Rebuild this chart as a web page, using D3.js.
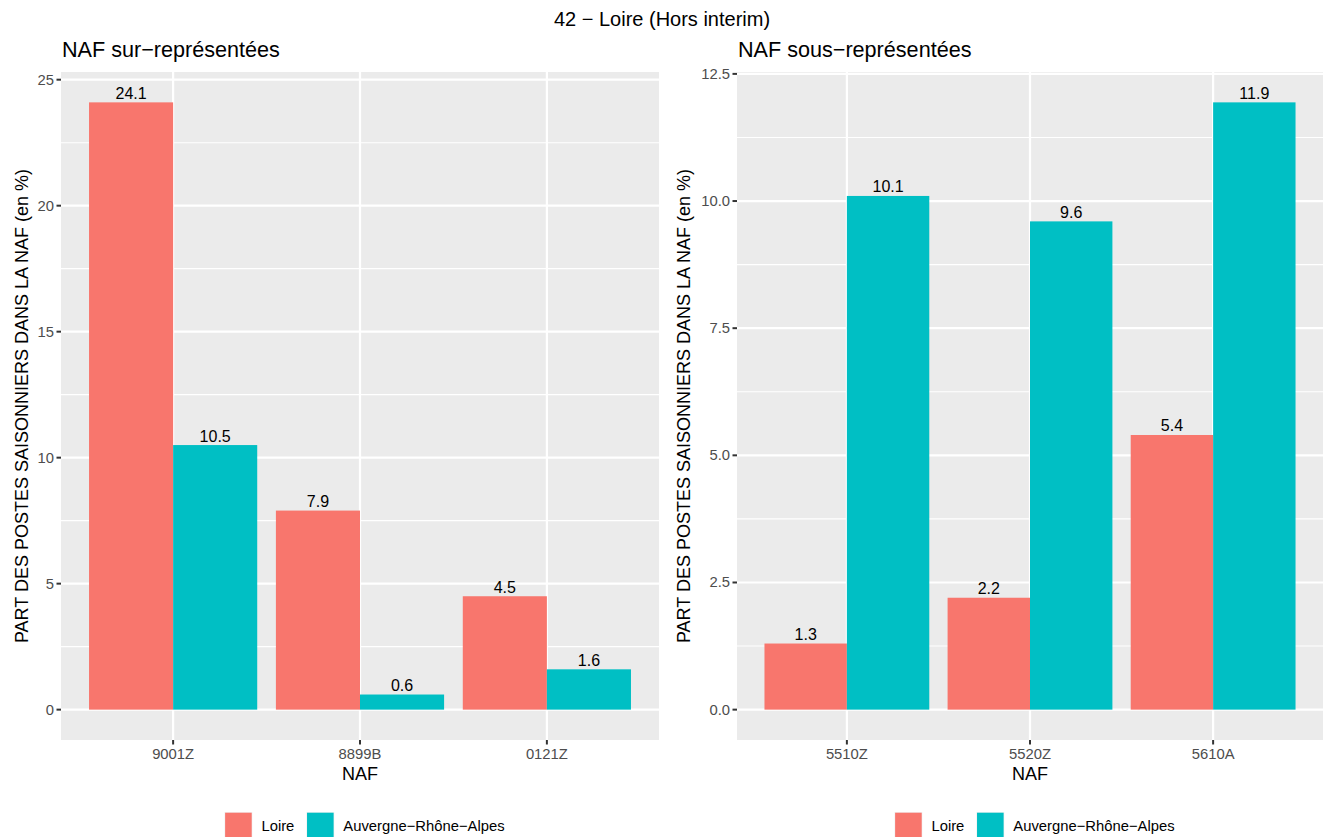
<!DOCTYPE html>
<html>
<head>
<meta charset="utf-8">
<script src="https://cdn.jsdelivr.net/npm/d3@7"></script>
<style>
  html, body { margin: 0; padding: 0; background: #ffffff; }
  svg { display: block; font-family: "Liberation Sans", Arial, Helvetica, sans-serif; }
</style>
</head>
<body>
<svg id="chart" width="1324" height="837"></svg>
<script>
// ---- data ----
const mainTitle = "42 \u2212 Loire (Hors interim)";
const seriesNames = ["Loire", "Auvergne\u2212Rh\u00f4ne\u2212Alpes"];
const seriesColors = ["#F8766D", "#00BFC4"];

const titleSur = "NAF sur\u2212repr\u00e9sent\u00e9es";
const categoriesSur = ["9001Z", "8899B", "0121Z"];
const loireSur = [24.1, 7.9, 4.5];
const araSur = [10.5, 0.6, 1.6];
const ticksSur = [0, 5, 10, 15, 20, 25];
const tickLabelsSur = ["0", "5", "10", "15", "20", "25"];

const titleSous = "NAF sous\u2212repr\u00e9sent\u00e9es";
const categoriesSous = ["5510Z", "5520Z", "5610A"];
const loireSous = [1.3, 2.2, 5.4];
const araSous = [10.1, 9.6, 11.94];
const ticksSous = [0, 2.5, 5, 7.5, 10, 12.5];
const tickLabelsSous = ["0.0", "2.5", "5.0", "7.5", "10.0", "12.5"];

const yTitle = "PART DES POSTES SAISONNIERS DANS LA NAF (en %)";
const xTitle = "NAF";

// ---- drawing ----
const svg = d3.select("#chart");

svg.append("text")
  .attr("x", 662).attr("y", 26)
  .attr("text-anchor", "middle")
  .attr("font-size", 20)
  .attr("fill", "#000")
  .text(mainTitle);

function drawPanel(cfg) {
  const g = svg.append("g");
  const x = d3.scalePoint().domain(cfg.categories).range([cfg.left, cfg.right]).padding(0.6);
  const maxV = d3.max(cfg.loire.concat(cfg.ara));
  const y = d3.scaleLinear().domain([-0.05 * maxV, 1.05 * maxV]).range([cfg.bottom, cfg.top]);
  const step = x.step();
  const bw = 0.45 * step;

  // panel background
  g.append("rect")
    .attr("x", cfg.left).attr("y", cfg.top)
    .attr("width", cfg.right - cfg.left).attr("height", cfg.bottom - cfg.top)
    .attr("fill", "#EBEBEB");

  // minor grid
  const minors = [];
  for (let i = 0; i < cfg.ticks.length - 1; i++) minors.push((cfg.ticks[i] + cfg.ticks[i + 1]) / 2);
  g.selectAll(".minor").data(minors).enter().append("line")
    .attr("x1", cfg.left).attr("x2", cfg.right)
    .attr("y1", d => y(d)).attr("y2", d => y(d))
    .attr("stroke", "#ffffff").attr("stroke-width", 1.1);

  // major grid
  g.selectAll(".majorY").data(cfg.ticks).enter().append("line")
    .attr("x1", cfg.left).attr("x2", cfg.right)
    .attr("y1", d => y(d)).attr("y2", d => y(d))
    .attr("stroke", "#ffffff").attr("stroke-width", 2.2);
  g.selectAll(".majorX").data(cfg.categories).enter().append("line")
    .attr("x1", d => x(d)).attr("x2", d => x(d))
    .attr("y1", cfg.top).attr("y2", cfg.bottom)
    .attr("stroke", "#ffffff").attr("stroke-width", 2.2);

  // bars
  const series = [cfg.loire, cfg.ara];
  series.forEach((vals, si) => {
    g.selectAll(".bar" + si).data(cfg.categories).enter().append("rect")
      .attr("x", d => x(d) - bw + si * bw)
      .attr("width", bw)
      .attr("y", (d, i) => y(vals[i]))
      .attr("height", (d, i) => y(0) - y(vals[i]))
      .attr("fill", seriesColors[si]);
    g.selectAll(".lab" + si).data(cfg.categories).enter().append("text")
      .attr("x", d => x(d) - bw / 2 + si * bw)
      .attr("y", (d, i) => y(vals[i]) - 3.5)
      .attr("text-anchor", "middle")
      .attr("font-size", 16)
      .attr("fill", "#000")
      .text((d, i) => vals[i].toFixed(1));
  });

  // y axis ticks
  g.selectAll(".yt").data(cfg.ticks).enter().append("line")
    .attr("x1", cfg.left - 4.5).attr("x2", cfg.left)
    .attr("y1", d => y(d)).attr("y2", d => y(d))
    .attr("stroke", "#333333").attr("stroke-width", 2);
  g.selectAll(".ytl").data(cfg.ticks).enter().append("text")
    .attr("x", cfg.left - 7)
    .attr("y", d => y(d) + 5)
    .attr("text-anchor", "end")
    .attr("font-size", 14.8)
    .attr("fill", "#4D4D4D")
    .text((d, i) => cfg.tickLabels[i]);

  // x axis ticks
  g.selectAll(".xt").data(cfg.categories).enter().append("line")
    .attr("x1", d => x(d)).attr("x2", d => x(d))
    .attr("y1", cfg.bottom).attr("y2", cfg.bottom + 4.5)
    .attr("stroke", "#333333").attr("stroke-width", 2);
  g.selectAll(".xtl").data(cfg.categories).enter().append("text")
    .attr("x", d => x(d))
    .attr("y", cfg.bottom + 19)
    .attr("text-anchor", "middle")
    .attr("font-size", 14.8)
    .attr("fill", "#4D4D4D")
    .text(d => d);

  const cx = (cfg.left + cfg.right) / 2;
  const cy = (cfg.top + cfg.bottom) / 2;

  // axis titles
  g.append("text")
    .attr("x", cx).attr("y", cfg.bottom + 40)
    .attr("text-anchor", "middle")
    .attr("font-size", 18)
    .attr("fill", "#000")
    .text(xTitle);
  g.append("text")
    .attr("transform", `translate(${cfg.yTitleX},${cy}) rotate(-90)`)
    .attr("text-anchor", "middle")
    .attr("font-size", 18)
    .attr("fill", "#000")
    .text(yTitle);

  // panel title
  g.append("text")
    .attr("x", cfg.left + 1).attr("y", 57)
    .attr("font-size", 21.6)
    .attr("fill", "#000")
    .text(cfg.title);

  // legend
  const lg = g.append("g");
  const keySize = 28;
  let pos = 0;
  seriesNames.forEach((name, i) => {
    const item = lg.append("g").attr("transform", `translate(${pos},0)`);
    item.append("rect").attr("x", 0).attr("y", 0).attr("width", keySize).attr("height", keySize).attr("fill", "#F2F2F2");
    item.append("rect").attr("x", 0.7).attr("y", 0.7).attr("width", keySize - 1.4).attr("height", keySize - 1.4).attr("fill", seriesColors[i]);
    const t = item.append("text")
      .attr("x", keySize + 9).attr("y", keySize / 2 + 5)
      .attr("font-size", 14.8).attr("fill", "#000")
      .text(name);
    const w = t.node().getComputedTextLength();
    pos += keySize + 9 + w + 12;
  });
  const total = pos - 12;
  lg.attr("transform", `translate(${cx + 4.5 - total / 2},812)`);
}

drawPanel({
  title: titleSur, categories: categoriesSur, loire: loireSur, ara: araSur,
  ticks: ticksSur, tickLabels: tickLabelsSur,
  left: 61, right: 659, top: 72, bottom: 740, yTitleX: 28
});
drawPanel({
  title: titleSous, categories: categoriesSous, loire: loireSous, ara: araSous,
  ticks: ticksSous, tickLabels: tickLabelsSous,
  left: 737, right: 1323, top: 72, bottom: 740, yTitleX: 690
});
</script>
</body>
</html>
